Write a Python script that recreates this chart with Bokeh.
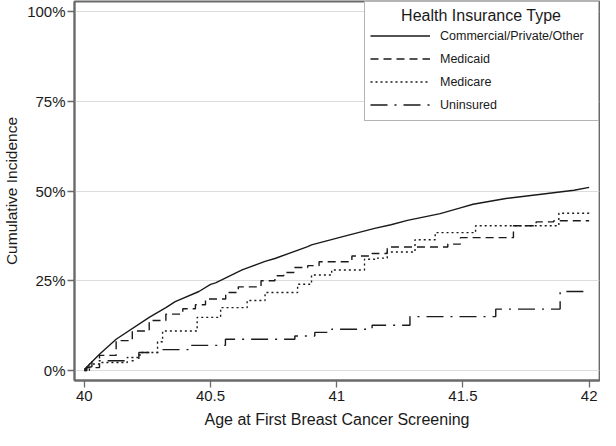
import numpy as np
from bokeh.plotting import figure
from bokeh.models import Range1d, FixedTicker, NumeralTickFormatter, Legend, LegendItem
from bokeh.embed import file_html
from bokeh.resources import INLINE

# ---- data (cumulative incidence, %) ----
commercial_age = [40.0, 40.008, 40.06, 40.126, 40.257, 40.323, 40.36, 40.454, 40.50, 40.52,
                  40.625, 40.716, 40.755, 40.885, 40.90, 41.02, 41.15, 41.215, 41.28, 41.41,
                  41.49, 41.54, 41.67, 41.81, 41.94, 42.0]
commercial_pct = [0.3, 0.8, 4.5, 8.7, 14.8, 17.5, 19.2, 22.0, 24.0, 24.4,
                  28.0, 30.4, 31.2, 34.5, 35.0, 37.2, 39.6, 40.6, 41.8, 43.7,
                  45.3, 46.3, 47.9, 49.1, 50.2, 51.0]

medicaid_age = [40.0, 40.008, 40.06, 40.126, 40.19, 40.257, 40.323, 40.39, 40.44, 40.48,
                40.56, 40.61, 40.70, 40.755, 40.79, 40.83, 40.885, 40.93, 41.06, 41.14,
                41.2, 41.44, 41.49, 41.70, 41.79, 41.86, 42.0]
medicaid_pct = [0.3, 0.8, 4.2, 8.3, 11.0, 13.9, 15.7, 17.2, 18.3, 19.9,
                21.7, 23.3, 25.0, 26.4, 27.3, 28.7, 29.2, 30.3, 31.9, 32.6,
                34.4, 35.2, 37.0, 40.3, 41.4, 41.7, 41.7]

medicare_age = [40.0, 40.02, 40.06, 40.17, 40.22, 40.29, 40.31, 40.447, 40.54, 40.645,
                40.716, 40.845, 40.90, 40.98, 41.11, 41.15, 41.20, 41.31, 41.39, 41.55,
                41.88, 42.0]
medicare_pct = [0.0, 1.8, 2.2, 3.6, 5.0, 8.0, 11.0, 14.8, 17.5, 19.5,
                21.7, 24.0, 26.6, 28.0, 31.0, 31.3, 33.0, 36.4, 38.4, 40.3,
                43.8, 43.8]

uninsured_age = [40.0, 40.01, 40.03, 40.216, 40.295, 40.413, 40.559, 40.834, 40.913, 40.98,
                 41.14, 41.29, 41.63, 41.885, 41.987]
uninsured_pct = [0.0, 1.0, 2.7, 5.0, 5.8, 7.0, 8.7, 9.6, 10.6, 11.5,
                 12.6, 15.0, 17.1, 22.0, 22.0]

series_names = ["Commercial/Private/Other", "Medicaid", "Medicare", "Uninsured"]
x_ticks = [40, 40.5, 41, 41.5, 42]
y_ticks = [0, 0.25, 0.5, 0.75, 1.0]

FONT = "Liberation Sans"
INK = "#1a1a1a"
FRAME = "#6a6a6a"

p = figure(width=600, height=434, output_backend="svg", toolbar_location=None,
           x_range=Range1d(39.961, 42.041), y_range=Range1d(-0.028, 1.028),
           min_border_left=70, min_border_right=1, min_border_top=1, min_border_bottom=54,
           background_fill_color="white", border_fill_color="white")

p.outline_line_color = FRAME
p.outline_line_width = 1.8
p.xgrid.visible = False
p.ygrid.grid_line_color = "#dcdcdc"
p.ygrid.grid_line_width = 1

p.xaxis.ticker = FixedTicker(ticks=x_ticks)
p.yaxis.ticker = FixedTicker(ticks=y_ticks)
p.xaxis.formatter = NumeralTickFormatter(format="0.[0]")
p.yaxis.formatter = NumeralTickFormatter(format="0%")

for ax in (p.xaxis[0], p.yaxis[0]):
    ax.axis_line_color = FRAME
    ax.axis_line_width = 2
    ax.major_tick_line_color = FRAME
    ax.major_tick_line_width = 1.3
    ax.major_tick_out = 7
    ax.major_tick_in = 0
    ax.minor_tick_line_color = None
    ax.major_label_text_font = FONT
    ax.major_label_text_font_size = "15px"
    ax.major_label_text_color = INK
    ax.axis_label_text_font = FONT
    ax.axis_label_text_font_style = "normal"
    ax.axis_label_text_color = INK

p.xaxis.axis_label = "Age at First Breast Cancer Screening"
p.xaxis.axis_label_text_font_size = "16px"
p.xaxis.major_label_standoff = 3
p.xaxis.axis_label_standoff = 7

p.yaxis.axis_label = "Cumulative Incidence"
p.yaxis.axis_label_text_font_size = "15.5px"
p.yaxis.major_label_standoff = 2
p.yaxis.axis_label_standoff = 4

lw = 1.4
r1 = p.line(commercial_age, np.array(commercial_pct) / 100, line_color=INK, line_width=lw)
r2 = p.step(medicaid_age, np.array(medicaid_pct) / 100, mode="after", line_color=INK,
            line_width=lw, line_dash="8 5")
r3 = p.step(medicare_age, np.array(medicare_pct) / 100, mode="after", line_color=INK,
            line_width=lw, line_dash="2 3")
r4 = p.step(uninsured_age, np.array(uninsured_pct) / 100, mode="after", line_color=INK,
            line_width=lw, line_dash="17 7 2 7")

items = [LegendItem(label=n, renderers=[r]) for n, r in zip(series_names, [r1, r2, r3, r4])]
legend = Legend(items=items, location="top_right", margin=0, padding=5, spacing=2,
                label_height=21, glyph_height=21, glyph_width=60, label_standoff=10,
                label_width=153,
                title="\u00a0" * 7 + "Health Insurance Type",
                title_text_font=FONT, title_text_font_size="16px",
                title_text_font_style="normal", title_text_color=INK, title_standoff=0,
                label_text_font=FONT, label_text_font_size="12.5px", label_text_color=INK,
                border_line_color=FRAME, border_line_width=1.2,
                background_fill_color="white", background_fill_alpha=1.0)
p.add_layout(legend)

open("out.html", "w").write(file_html(p, INLINE))
